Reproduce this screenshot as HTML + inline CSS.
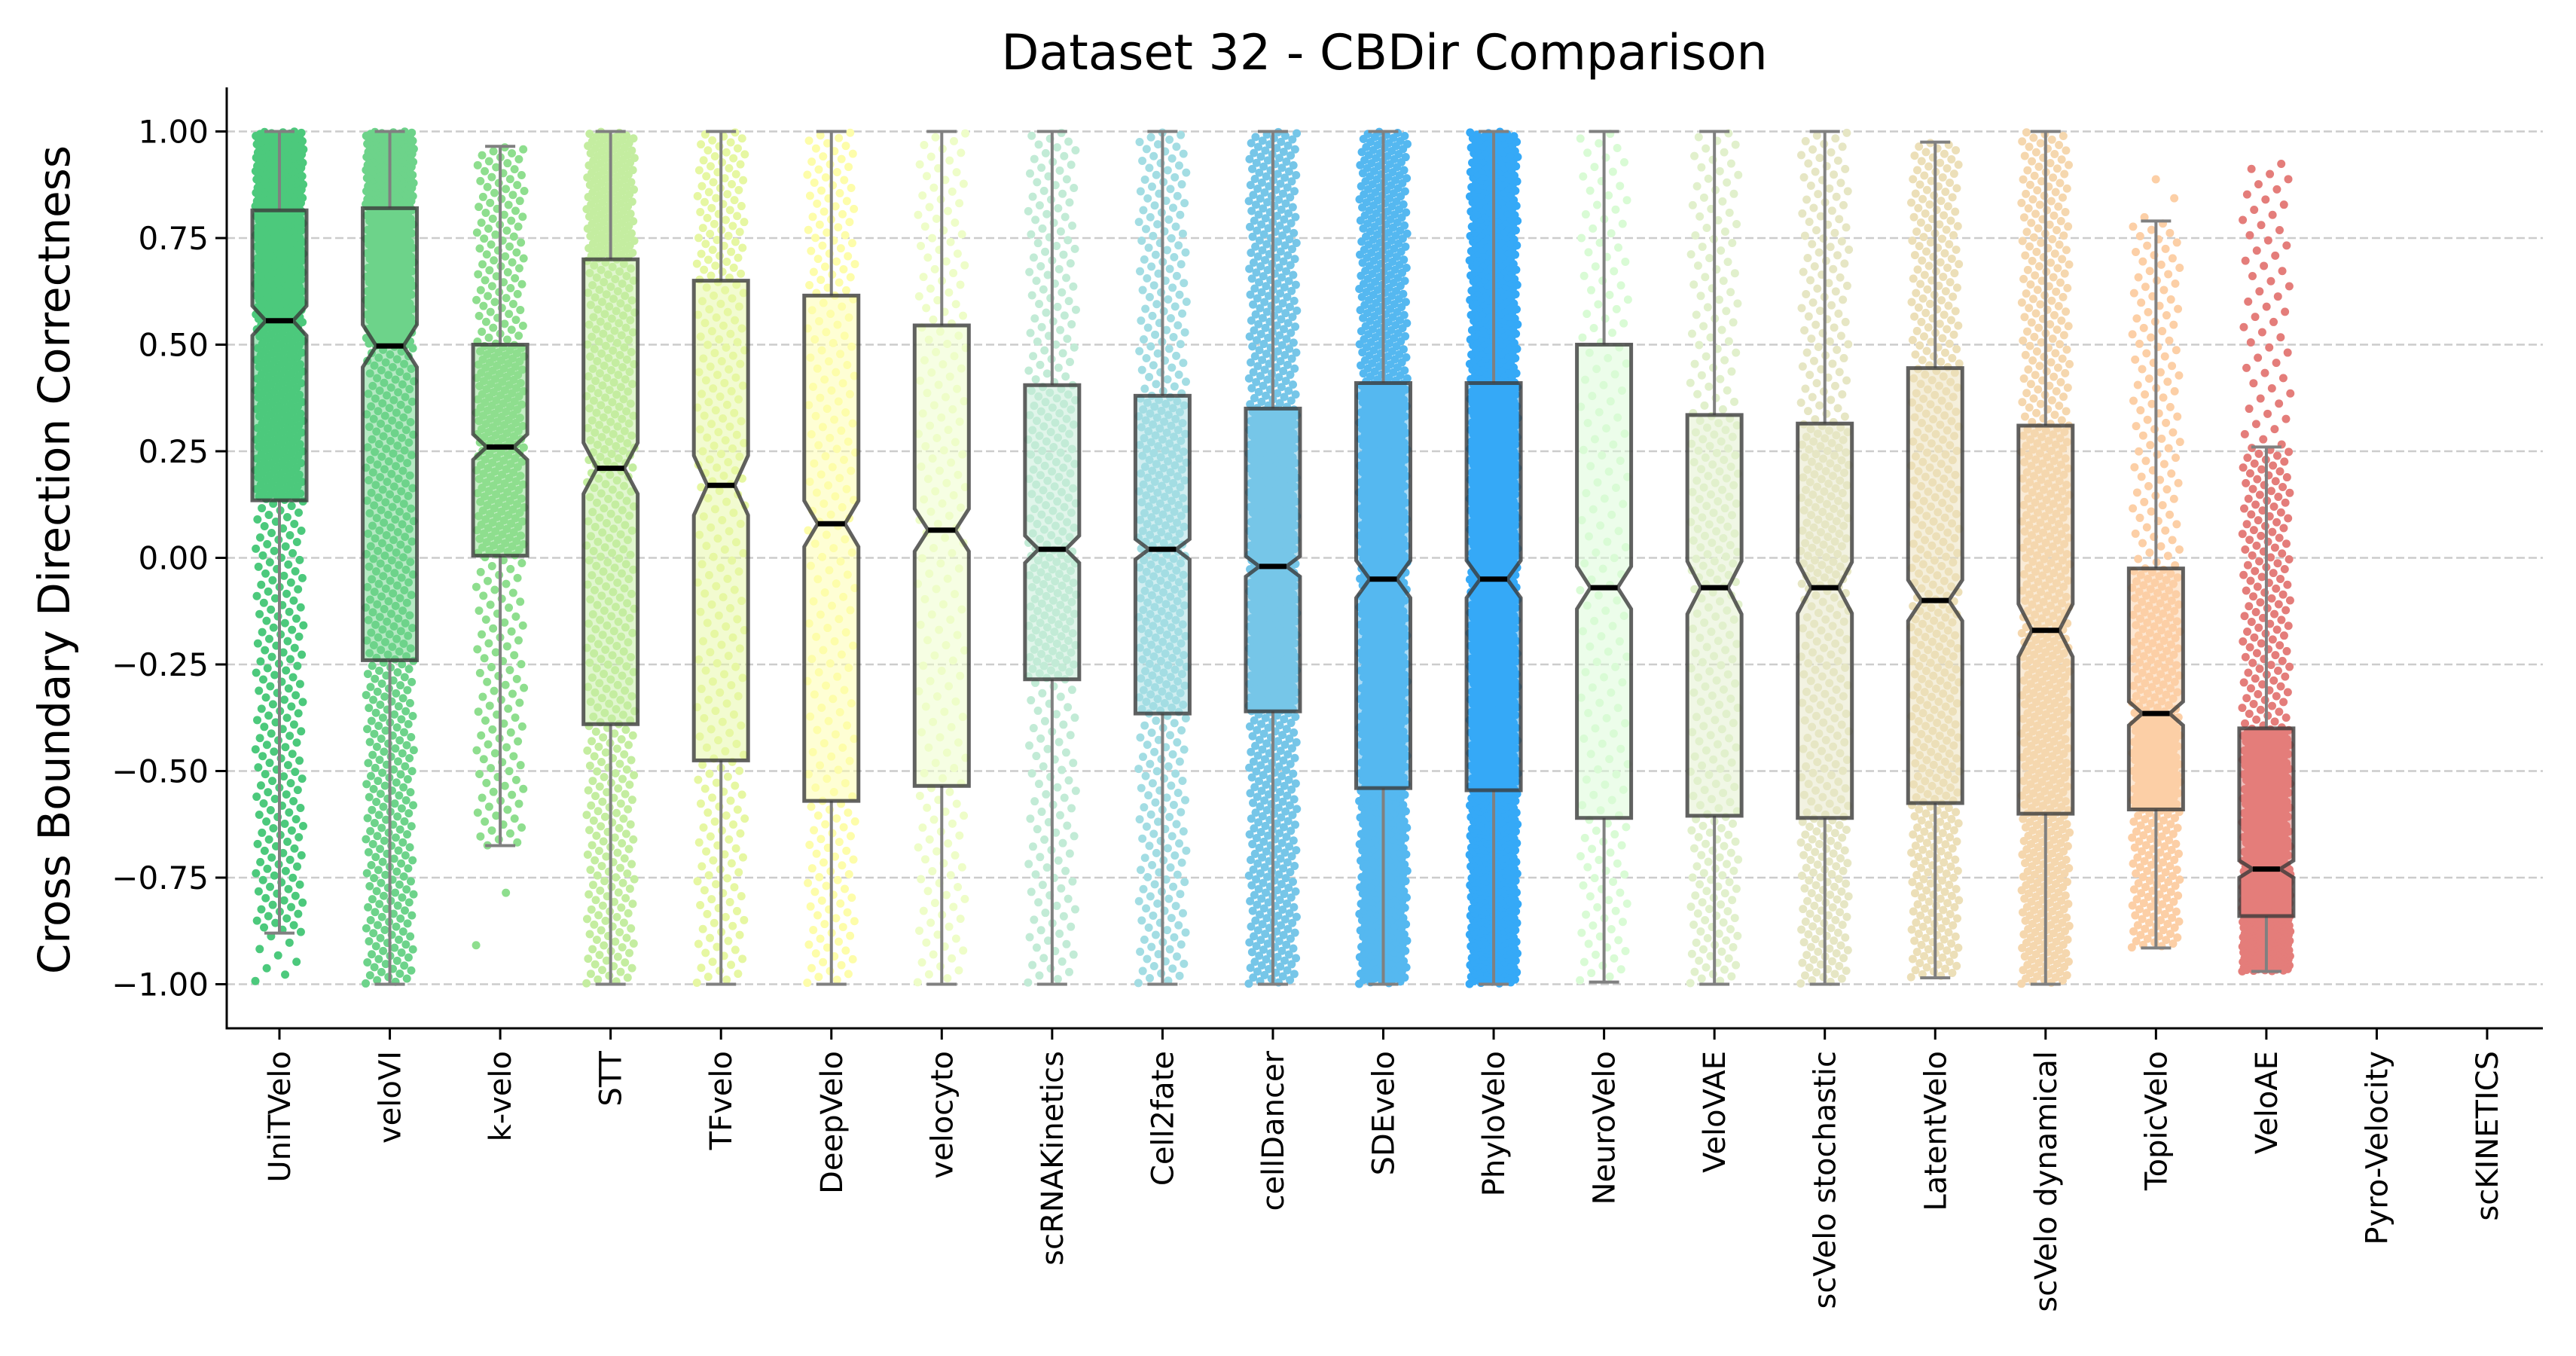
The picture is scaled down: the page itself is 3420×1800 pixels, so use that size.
<!DOCTYPE html>
<html><head><meta charset="utf-8"><style>
html,body{margin:0;padding:0;background:#fff;}
svg{display:block;font-family:"DejaVu Sans","Liberation Sans",sans-serif;}
</style></head><body>
<svg id="chart" width="3420" height="1800" viewBox="0 0 3420 1800" xmlns="http://www.w3.org/2000/svg">
<rect width="3420" height="1800" fill="#fff"/>
<text x="1838" y="92" font-size="65" text-anchor="middle" fill="#000">Dataset 32 - CBDir Comparison</text>
<text x="0" y="0" font-size="58" text-anchor="middle" fill="#000" transform="translate(92,743) rotate(-90)">Cross Boundary Direction Correctness</text>
<g id="grid"></g><g id="points"></g><g id="boxes"></g><g id="axes"></g>
</svg>
<script>
const categories=["UniTVelo","veloVI","k-velo","STT","TFvelo","DeepVelo","velocyto","scRNAKinetics","Cell2fate","cellDancer","SDEvelo","PhyloVelo","NeuroVelo","VeloVAE","scVelo stochastic","LatentVelo","scVelo dynamical","TopicVelo","VeloAE","Pyro-Velocity","scKINETICS"];
const q1Values=[0.135,-0.24,0.005,-0.39,-0.475,-0.57,-0.535,-0.285,-0.365,-0.36,-0.54,-0.545,-0.61,-0.605,-0.61,-0.575,-0.60,-0.59,-0.84,null,null];
const medianValues=[0.556,0.497,0.26,0.21,0.17,0.08,0.065,0.02,0.02,-0.02,-0.05,-0.05,-0.07,-0.07,-0.07,-0.10,-0.17,-0.365,-0.73,null,null];
const q3Values=[0.815,0.82,0.50,0.70,0.65,0.615,0.545,0.405,0.38,0.35,0.41,0.41,0.50,0.335,0.315,0.445,0.31,-0.025,-0.40,null,null];
const whiskerLow=[-0.88,-1,-0.675,-1,-1,-1,-1,-1,-1,-1,-1,-1,-0.995,-1,-1,-0.985,-1,-0.915,-0.97,null,null];
const whiskerHigh=[1,1,0.965,1,1,1,1,1,1,1,1,1,1,1,1,0.975,1,0.79,0.26,null,null];
const pointMin=[-1,-1,-0.97,-1,-1,-1,-1,-1,-1,-1,-1,-1,-0.995,-1,-1,-0.985,-1,-0.92,-0.975,null,null];
const pointMax=[1,1,0.965,1,1,1,1,1,1,1,1,1,1,1,1,0.975,1,0.91,0.93,null,null];
const lowTailFrac=[0.01,0,0.006,0,0,0,0,0,0,0,0,0,0,0,0,0,0,0,0,null,null];
const highTailFrac=[0,0,0,0,0,0,0,0,0,0,0,0,0,0,0,0,0,0.006,0.07,null,null];
const notchHalf=[0.035,0.05,0.03,0.06,0.07,0.054,0.05,0.032,0.024,0.024,0.044,0.044,0.05,0.062,0.06,0.048,0.062,0.028,0.02,null,null];
const pointCounts=[800,800,400,550,300,250,200,350,450,900,1000,1400,180,300,420,500,650,450,800,0,0];
const colors=["#4cc97c","#6dd38a","#8ede8e","#c4eda0","#e6f7a2","#fdfdaa","#eefdc8","#c2ebd6","#a3dde3","#76c6e8","#55b8f0","#35a9f7","#d9fbd5","#e1f0cc","#e6e6c4","#ecdfb8","#f5d7ae","#fccfa6","#e47d7a","#cccccc","#cccccc"];
const yTicks=[1,0.75,0.5,0.25,0,-0.25,-0.5,-0.75,-1];
const yTickLabels=["1.00","0.75","0.50","0.25","0.00","\u22120.25","\u22120.50","\u22120.75","\u22121.00"];

const NS="http://www.w3.org/2000/svg";
const X0=301,X1=3376,Y0=116,Y1=1365;
function xScale(i){return 371+i*146.55;}
function yScale(v){return 740.5-566*v;}
function mk(tag,attrs,parent){const e=document.createElementNS(NS,tag);for(const k in attrs)e.setAttribute(k,attrs[k]);parent.appendChild(e);return e;}
const grid=document.getElementById('grid'),pts=document.getElementById('points'),boxes=document.getElementById('boxes'),axes=document.getElementById('axes');

yTicks.forEach((t,k)=>{
  const l=mk('line',{x1:X0,x2:X1,y1:yScale(t),y2:yScale(t),stroke:'#cccccc','stroke-width':2.5,'stroke-dasharray':'11,5'},grid);
  
  
  const tk=mk('line',{x1:X0-15,x2:X0,y1:yScale(t),y2:yScale(t),stroke:'#000','stroke-width':3},axes);
  
  
  const tx=mk('text',{x:X0-24,y:yScale(t)+15,'font-size':42,'text-anchor':'end',fill:'#000'},axes);
  tx.textContent=yTickLabels[k];
  
  
});

function quant(i,p){
  const ps=[0,lowTailFrac[i],0.25,0.5,0.75,1-highTailFrac[i],1];
  const vs=[pointMin[i],whiskerLow[i],q1Values[i],medianValues[i],q3Values[i],whiskerHigh[i],pointMax[i]];
  for(let k=1;k<ps.length;k++){if(p<=ps[k]){const span=ps[k]-ps[k-1];const f=span>0?(p-ps[k-1])/span:1;return vs[k-1]+f*(vs[k]-vs[k-1]);}}
  return vs[vs.length-1];
}

categories.forEach((c,i)=>{
  const cx=xScale(i);
  const tk=mk('line',{x1:cx,x2:cx,y1:Y1,y2:Y1+15,stroke:'#000','stroke-width':3},axes);
  
  
  const tx=mk('text',{x:0,y:0,'font-size':40,'text-anchor':'end',fill:'#000',transform:`translate(${cx+14},${Y1+30}) rotate(-90)`},axes);
  tx.textContent=c;
  
  
  if(medianValues[i]===null)return;
  const n=pointCounts[i];
  const g=mk('g',{fill:colors[i]},pts);
  
  
  for(let k=0;k<n;k++){
    const p=(k+0.5)/n;
    const j=((k*0.6180339887)%1)*2-1;
    mk('circle',{cx:cx+j*32,cy:yScale(quant(i,p)),r:5.5},g);
  }
  const bw=36,nw=18;
  const yq1=yScale(q1Values[i]),yq3=yScale(q3Values[i]),ym=yScale(medianValues[i]);
  const yn1=yScale(medianValues[i]+notchHalf[i]),yn2=yScale(medianValues[i]-notchHalf[i]);
  const wl=mk('line',{x1:cx,x2:cx,y1:yq1,y2:yScale(whiskerLow[i]),stroke:'#808080','stroke-width':4},boxes);
  
  
  const wh=mk('line',{x1:cx,x2:cx,y1:yq3,y2:yScale(whiskerHigh[i]),stroke:'#808080','stroke-width':4},boxes);
  
  
  [whiskerLow[i],whiskerHigh[i]].forEach(v=>{
    const cap=mk('line',{x1:cx-20,x2:cx+20,y1:yScale(v),y2:yScale(v),stroke:'#808080','stroke-width':4},boxes);
    
    
  });
  const d=`M${cx-bw},${yq3} L${cx+bw},${yq3} L${cx+bw},${yn1} L${cx+nw},${ym} L${cx+bw},${yn2} L${cx+bw},${yq1} L${cx-bw},${yq1} L${cx-bw},${yn2} L${cx-nw},${ym} L${cx-bw},${yn1} Z`;
  const bx=mk('path',{d:d,fill:colors[i],'fill-opacity':0.5,stroke:'#3a3a3a','stroke-opacity':0.8,'stroke-width':5,'stroke-linejoin':'miter'},boxes);
  
  
  const md=mk('line',{x1:cx-nw,x2:cx+nw,y1:ym,y2:ym,stroke:'#000','stroke-width':7},boxes);
  
  
});

const ax1=mk('line',{x1:X0,x2:X0,y1:Y0,y2:Y1+1.5,stroke:'#000','stroke-width':3},axes);


const ax2=mk('line',{x1:X0-1.5,x2:X1,y1:Y1,y2:Y1,stroke:'#000','stroke-width':3},axes);


</script>
</body></html>
